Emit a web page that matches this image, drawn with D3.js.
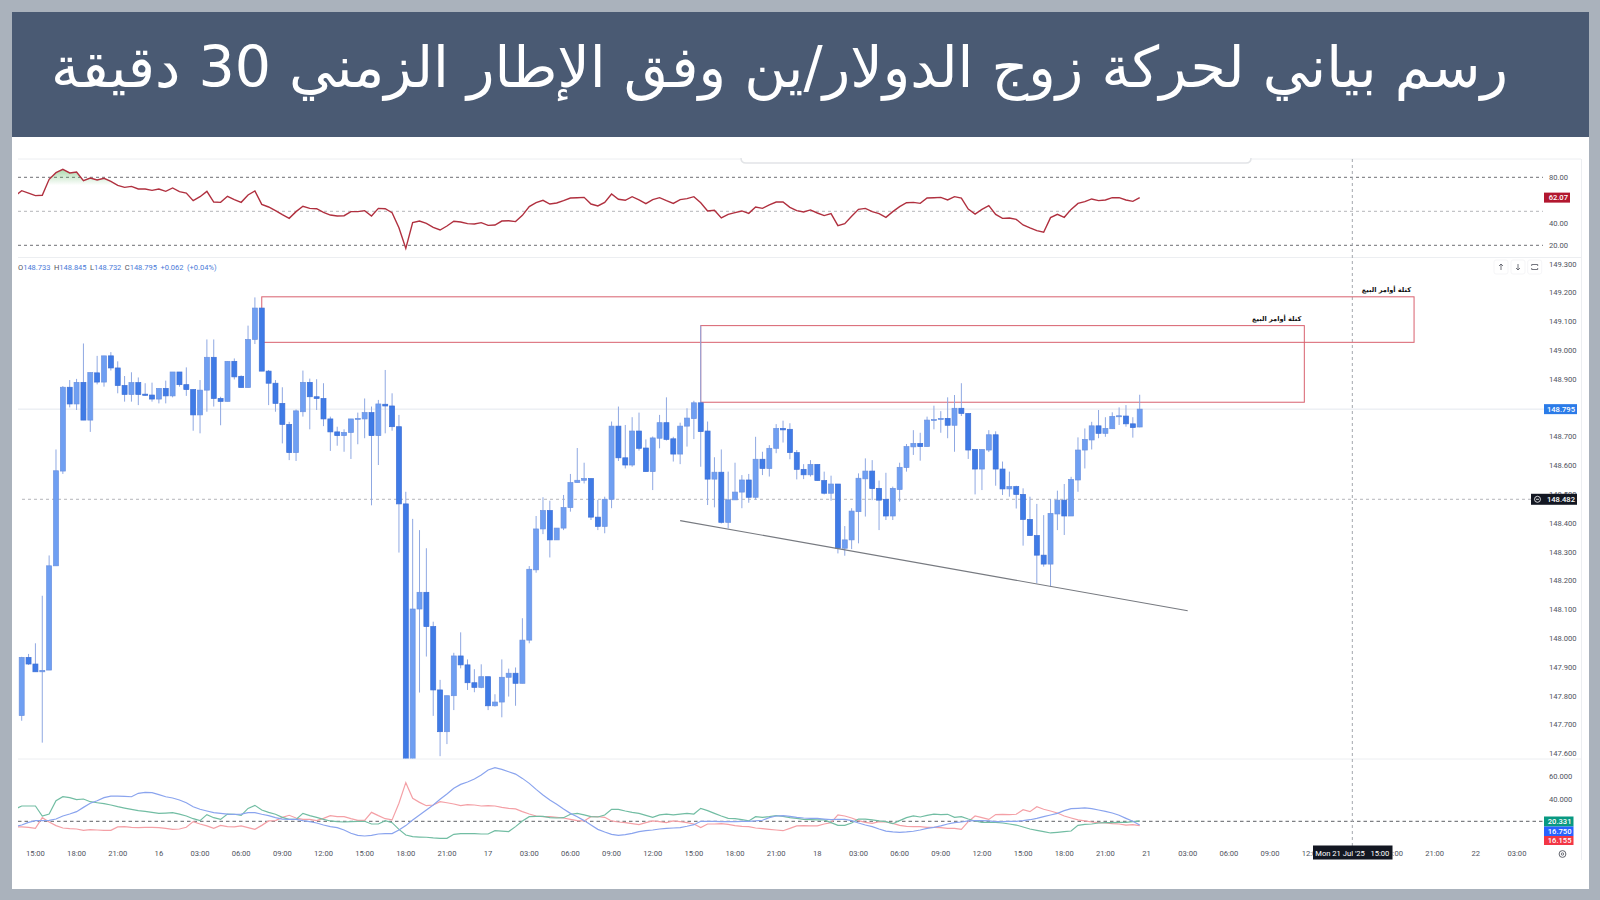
<!DOCTYPE html>
<html>
<head>
<meta charset="utf-8">
<script src="https://cdn.jsdelivr.net/npm/d3@7"></script>
<style>
    html, body { margin: 0; padding: 0; background: #aab2bc; }
    svg { display: block; }
    text { font-family: Roboto, "DejaVu Sans", sans-serif; }
    .tick text { fill: #50535e; font-size: 7.6px; }
    .domain { display: none; }
</style>
</head>
<body>
<svg id="chart" width="1600" height="900"></svg>
<script>
const titleText = 'رسم بياني لحركة زوج الدولار/ين وفق الإطار الزمني 30 دقيقة'
const zoneText = 'كتلة أوامر البيع'
const crosshairText = "Mon 21 Jul '25   15:00"

const opens = [
    147.731,147.933,147.910,147.883,147.889,148.251,148.580,148.871,148.813,148.888,
    148.757,148.921,148.889,148.980,148.938,148.877,148.846,148.887,148.847,148.844,
    148.830,148.867,148.841,148.924,148.880,148.863,148.775,148.861,148.975,148.832,
    148.822,148.961,148.909,148.870,149.037,149.146,148.927,148.885,148.815,148.742,
    148.644,148.786,148.888,148.838,148.832,148.761,148.716,148.703,148.714,148.760,
    148.761,148.783,148.703,148.812,148.806,148.734,148.466,147.450,148.101,148.159,
    148.040,147.820,147.675,147.800,147.938,147.907,147.845,147.829,147.866,147.765,
    147.778,147.864,147.878,147.843,147.993,148.237,148.379,148.443,148.341,148.382,
    148.453,148.540,148.548,148.554,148.420,148.388,148.482,148.736,148.626,148.601,
    148.719,148.660,148.578,148.694,148.748,148.692,148.639,148.736,148.762,148.817,
    148.719,148.552,148.576,148.402,148.480,148.507,148.549,148.489,148.621,148.589,
    148.659,148.728,148.725,148.644,148.586,148.567,148.603,148.547,148.503,148.535,
    148.312,148.341,148.439,148.553,148.580,148.520,148.482,148.424,148.516,148.592,
    148.664,148.676,148.665,148.757,148.759,148.763,148.739,148.798,148.780,148.655,
    148.587,148.653,148.706,148.587,148.518,148.526,148.499,148.412,148.356,148.288,
    148.257,148.431,148.479,148.424,148.549,148.653,148.688,148.737,148.711,148.727,
    148.769,148.771,148.744,148.733
]
const closes = [
    147.933,147.910,147.883,147.888,148.251,148.581,148.871,148.813,148.888,148.757,
    148.922,148.889,148.980,148.938,148.877,148.846,148.887,148.846,148.843,148.830,
    148.867,148.841,148.924,148.880,148.863,148.775,148.861,148.975,148.832,148.822,
    148.961,148.907,148.870,149.037,149.146,148.927,148.885,148.815,148.742,148.644,
    148.789,148.888,148.838,148.832,148.761,148.716,148.703,148.714,148.761,148.763,
    148.783,148.703,148.813,148.806,148.734,148.466,147.450,148.101,148.159,148.040,
    147.820,147.675,147.800,147.938,147.907,147.845,147.829,147.866,147.765,147.778,
    147.864,147.878,147.843,147.993,148.239,148.379,148.443,148.341,148.382,148.453,
    148.540,148.548,148.554,148.420,148.388,148.482,148.736,148.626,148.601,148.719,
    148.659,148.578,148.695,148.748,148.690,148.639,148.736,148.764,148.817,148.717,
    148.552,148.576,148.402,148.480,148.507,148.549,148.489,148.621,148.589,148.659,
    148.728,148.723,148.644,148.586,148.567,148.603,148.547,148.503,148.535,148.312,
    148.341,148.441,148.555,148.580,148.519,148.479,148.424,148.520,148.593,148.665,
    148.676,148.665,148.757,148.759,148.763,148.739,148.798,148.780,148.653,148.587,
    148.655,148.706,148.587,148.518,148.526,148.499,148.412,148.356,148.288,148.257,
    148.433,148.479,148.424,148.551,148.653,148.690,148.737,148.711,148.728,148.770,
    148.772,148.744,148.731,148.795
]
const highs = [
    147.935,147.945,147.982,148.147,148.287,148.655,148.875,148.896,148.900,149.023,
    148.922,148.980,148.980,148.993,148.961,148.910,148.923,148.905,148.885,148.887,
    148.867,148.894,148.924,148.924,148.940,148.864,148.896,149.037,149.037,148.838,
    148.961,148.971,148.912,149.085,149.183,149.146,148.931,148.896,148.871,148.751,
    148.794,148.929,148.901,148.899,148.885,148.769,148.734,148.725,148.761,148.783,
    148.832,148.804,148.827,148.931,148.850,148.775,148.508,148.414,148.375,148.312,
    148.057,147.855,147.800,147.949,148.020,147.926,147.892,147.909,147.866,147.805,
    147.926,147.894,147.898,148.069,148.250,148.424,148.489,148.477,148.382,148.497,
    148.570,148.660,148.609,148.554,148.480,148.491,148.752,148.804,148.740,148.767,
    148.783,148.690,148.700,148.775,148.836,148.699,148.748,148.798,148.824,149.085,
    148.752,148.628,148.655,148.578,148.609,148.566,148.570,148.699,148.647,148.670,
    148.743,148.755,148.746,148.653,148.604,148.618,148.603,148.578,148.564,148.535,
    148.389,148.451,148.572,148.624,148.618,148.547,148.574,148.526,148.609,148.674,
    148.722,148.713,148.769,148.807,148.788,148.836,148.844,148.885,148.780,148.655,
    148.655,148.722,148.718,148.613,148.578,148.529,148.520,148.491,148.466,148.427,
    148.483,148.512,148.535,148.560,148.697,148.728,148.751,148.792,148.767,148.784,
    148.801,148.809,148.767,148.845
]
const lows = [
    147.713,147.907,147.883,147.637,147.889,148.251,148.570,148.801,148.792,148.757,
    148.716,148.881,148.873,148.929,148.850,148.821,148.821,148.809,148.841,148.821,
    148.815,148.815,148.836,148.873,148.841,148.720,148.711,148.786,148.804,148.739,
    148.822,148.898,148.870,148.870,149.021,148.927,148.809,148.786,148.676,148.618,
    148.615,148.769,148.725,148.792,148.736,148.650,148.668,148.647,148.622,148.673,
    148.694,148.461,148.601,148.711,148.720,148.297,147.400,147.400,147.811,147.936,
    147.730,147.590,147.632,147.750,147.895,147.820,147.812,147.826,147.750,147.762,
    147.725,147.797,147.765,147.843,147.982,148.227,148.361,148.280,148.341,148.375,
    148.439,148.540,148.537,148.410,148.375,148.364,148.451,148.615,148.589,148.595,
    148.651,148.578,148.514,148.659,148.686,148.613,148.604,148.665,148.691,148.595,
    148.462,148.454,148.398,148.381,148.480,148.451,148.470,148.480,148.566,148.561,
    148.642,148.679,148.621,148.551,148.552,148.561,148.547,148.499,148.477,148.294,
    148.286,148.309,148.329,148.422,148.479,148.375,148.410,148.410,148.474,148.578,
    148.636,148.616,148.665,148.725,148.713,148.694,148.647,148.771,148.622,148.499,
    148.514,148.646,148.529,148.497,148.491,148.450,148.321,148.356,148.190,148.248,
    148.179,148.375,148.358,148.424,148.508,148.589,148.655,148.694,148.699,148.727,
    148.740,148.734,148.696,148.732
]

// indicator series start one bar before the first candle
const rsiValues = [
    63.5,68.2,66.1,63.8,64.1,78.2,84.1,87.0,83.8,84.7,77.0,
    79.4,77.6,79.1,76.4,72.9,71.1,72.0,69.7,69.7,68.5,
    69.7,67.6,70.6,67.3,66.1,59.4,62.9,67.6,58.2,57.9,
    63.2,60.3,57.9,64.4,67.9,56.1,53.8,50.6,47.0,43.8,
    49.7,54.4,52.6,52.3,49.1,46.7,45.8,46.1,49.7,49.7,
    50.6,45.8,52.6,52.3,48.8,35.5,17.3,40.0,41.4,39.4,
    35.9,33.5,37.0,41.2,40.6,39.1,38.8,40.0,37.6,37.9,
    41.4,41.7,40.9,46.4,54.1,57.6,59.7,56.4,57.3,59.4,
    61.7,62.0,62.3,56.4,54.7,57.9,65.3,60.6,59.7,62.9,
    60.0,56.7,60.3,62.0,59.4,57.0,60.3,61.2,62.9,57.6,
    50.3,50.9,44.1,47.3,48.8,50.3,48.2,53.8,52.6,55.6,
    58.2,58.2,53.5,50.6,49.4,51.2,48.5,46.2,47.9,37.3,
    39.1,45.6,51.7,52.6,49.7,47.9,44.7,49.7,54.1,57.6,
    57.9,57.0,61.7,62.0,62.3,60.0,62.9,61.7,52.0,47.6,
    51.7,55.0,47.3,43.8,44.1,42.9,37.9,35.3,32.9,31.5,
    44.4,47.3,44.7,51.7,57.0,58.5,60.9,59.4,60.0,62.0,
    62.0,60.0,58.8,62.07
]
const plusValues = [
    15.3,15.0,14.7,13.8,23.2,19.4,16.2,14.1,13.5,13.2,12.0,
    12.6,12.3,12.0,12.0,15.0,15.3,14.7,14.4,14.7,14.7,
    14.4,13.8,12.9,13.2,14.7,19.7,17.6,15.9,13.8,16.4,
    15.3,15.0,15.9,14.4,12.9,16.4,20.3,20.6,23.5,25.3,
    22.9,21.7,21.7,20.6,22.6,25.0,24.1,24.1,22.3,20.9,
    20.9,27.9,25.0,22.3,21.2,35.9,54.1,40.3,36.7,33.8,
    34.4,37.3,36.4,35.3,33.8,34.7,34.4,33.5,33.8,33.5,
    32.3,31.4,30.9,28.5,26.4,24.7,24.1,24.1,23.5,22.9,
    21.7,20.6,20.3,24.1,24.1,
    23.5,20.3,19.4,18.8,17.9,17.0,18.8,20.3,19.7,18.8,
    20.3,19.7,18.8,17.6,14.4,17.6,17.6,17.9,17.3,16.2,
    15.6,15.3,14.1,13.5,12.9,12.3,11.7,13.8,15.9,16.2,
    15.9,15.9,17.6,18.8,25.6,24.7,22.9,20.6,19.1,18.2,
    19.7,19.4,18.2,16.4,15.6,15.3,15.3,14.7,14.7,14.4,
    13.8,13.8,12.9,19.7,24.7,23.2,21.7,25.9,26.2,25.9,
    26.2,30.3,28.5,32.9,30.6,29.1,27.3,24.7,22.9,21.2,
    20.3,19.4,18.8,18.5,17.9,17.6,16.7,17.0,16.155
]
const minusValues = [
    30.6,33.5,33.5,33.5,24.7,26.4,38.2,41.7,40.9,39.1,39.7,
    37.3,36.4,35.6,34.4,32.9,31.7,30.6,29.4,28.8,27.9,
    27.0,27.3,27.6,26.4,24.7,22.3,20.6,25.9,23.2,21.7,
    26.4,26.2,25.3,31.4,34.1,30.0,27.9,26.2,23.5,21.7,
    21.7,27.0,25.0,23.5,21.7,20.3,19.7,19.4,19.7,20.0,
    20.0,17.6,17.6,20.6,18.8,12.9,7.9,6.4,6.1,5.9,
    5.3,5.0,5.0,8.5,9.1,9.1,9.1,8.8,8.8,11.7,
    11.4,10.9,15.3,20.3,24.1,24.4,24.4,23.2,22.9,23.2,
    26.2,27.0,25.6,24.1,23.8,
    25.6,30.6,30.6,29.1,27.9,27.0,25.3,23.5,25.6,26.4,
    25.6,26.4,27.0,26.4,31.4,29.4,27.0,24.7,22.6,22.3,
    21.4,20.3,24.1,23.5,24.1,25.0,24.4,23.2,22.6,21.7,
    21.4,21.2,21.2,18.8,16.4,16.4,18.5,22.0,22.0,21.2,
    20.3,19.7,17.9,20.6,23.2,24.7,23.8,25.3,26.4,25.9,
    26.2,23.5,24.1,22.0,20.3,19.1,19.1,19.1,18.5,17.6,
    16.7,15.0,13.2,12.0,10.9,9.7,10.3,10.9,11.4,16.4,
    17.3,17.6,18.5,18.8,18.8,19.1,19.1,19.7,20.331
]
const adxValues = [
    15.3,16.7,19.1,20.6,20.6,20.9,22.0,24.7,26.4,28.5,32.3,
    35.9,38.2,40.9,42.3,42.3,42.0,41.7,44.7,45.6,45.3,
    43.5,41.7,40.6,38.8,36.4,32.9,30.6,29.1,27.6,27.0,
    26.4,26.2,26.4,27.6,27.6,26.2,25.0,23.2,22.0,21.7,
    21.7,20.6,19.7,18.5,16.7,15.3,14.4,12.3,9.4,7.6,
    7.0,7.6,8.8,9.1,9.1,12.3,16.2,21.2,25.6,30.0,
    34.4,39.4,44.1,49.1,52.6,54.7,57.3,60.9,65.3,67.3,
    65.9,63.8,61.7,57.9,53.5,48.2,43.2,38.8,35.0,30.9,
    27.0,24.1,20.6,16.7,12.9,
    10.6,8.5,7.6,8.2,9.4,10.9,11.7,12.3,13.2,13.8,
    14.1,14.4,15.6,17.0,20.0,20.0,20.0,19.7,19.7,19.7,
    20.0,20.0,20.3,20.9,23.2,24.7,25.0,24.4,23.5,22.9,
    22.6,22.6,22.0,21.4,21.7,21.7,20.6,18.5,16.7,15.3,
    13.2,11.4,10.6,10.3,10.6,11.2,12.3,13.8,14.7,15.9,
    17.6,18.8,19.4,20.3,20.6,20.6,20.3,19.7,19.7,20.0,
    20.0,20.6,21.4,22.6,24.1,25.6,27.0,29.4,31.2,31.5,
    31.8,31.2,30.0,28.8,27.3,25.3,22.6,20.0,16.75
]

const priceTicks = [147.6,147.7,147.8,147.9,148.0,148.1,148.2,148.3,148.4,148.5,148.6,148.7,148.8,148.9,149.0,149.1,149.2,149.3]
const rsiTicks = [20,40,80]
const rsiLevels = [20,50,80]
const dmiTicks = [40,60]
// the 15:00 of the 21st sits fully under the crosshair tag, so it has no text
const timeTicks = [
    '15:00','18:00','21:00','16','03:00','06:00','09:00','12:00','15:00','18:00','21:00',
    '17','03:00','06:00','09:00','12:00','15:00','18:00','21:00',
    '18','03:00','06:00','09:00','12:00','15:00','18:00','21:00',
    '21','03:00','06:00','09:00','12:00','','18:00','21:00','22','03:00'
]

const lastPrice = 148.795
const crosshairPrice = 148.482
const crosshairBar = 194
// supply zones as [start bar, end bar, top price, bottom price]
const zoneStarts = [35, 99]
const zoneEnds = [203, 187]
const zoneTops = [149.185, 149.085]
const zoneBottoms = [149.027, 148.819]
const trendBars = [96, 170]
const trendPrices = [148.408, 148.095]

const green = '#089981', blue = '#2962ff', red = '#f23645'

const svg = d3.select('#chart')
const defs = svg.append('defs')

const x = d3.scaleLinear().domain([0, 163]).range([21.7, 1139.7])
const yPrice = d3.scaleLinear().domain([147.6, 149.3]).range([753.3, 263.7])
const yRsi = d3.scaleLinear().domain([20, 80]).range([245.3, 177.3])
const yDmi = d3.scaleLinear().domain([20, 60]).range([821.3, 776])

function addClip(id, left, top, right, bottom) {
    defs.append('clipPath').attr('id', id).append('rect')
        .attr('x', left).attr('y', top)
        .attr('width', right - left).attr('height', bottom - top)
}
addClip('mainClip', 18, 258, 1544, 758.5)
addClip('indClip', 18, 160, 1544, 846)

function renderFrame() {
    svg.append('rect').attr('width', 1600).attr('height', 900).attr('fill', '#aab2bc')
    svg.append('rect').attr('x', 12).attr('y', 137).attr('width', 1577).attr('height', 752).attr('fill', '#fff')
    svg.append('rect').attr('x', 12).attr('y', 12).attr('width', 1577).attr('height', 125).attr('fill', '#4a5a73')
    svg.append('text')
        .attr('x', 1508).attr('y', 87)
        .attr('direction', 'rtl')
        .attr('fill', '#fff')
        .style('font-family', '"DejaVu Sans", sans-serif')
        .style('font-size', '57px')
        .text(titleText)

    // pane separators and the edges of the chart
    const rules = svg.append('g').attr('stroke', '#eceef1').attr('stroke-width', 1)
    rules.append('line').attr('x1', 18).attr('x2', 1581).attr('y1', 159).attr('y2', 159)
    rules.append('line').attr('x1', 18).attr('x2', 1581).attr('y1', 257.5).attr('y2', 257.5)
    rules.append('line').attr('x1', 18).attr('x2', 1581).attr('y1', 759).attr('y2', 759)
    rules.append('line').attr('x1', 1581.5).attr('x2', 1581.5).attr('y1', 159).attr('y2', 860)

    // the dropped tab at the top of the chart
    svg.append('path')
        .attr('d', 'M741,158 Q741,163 746,163 L1246,163 Q1251,163 1251,158')
        .attr('fill', '#fff').attr('stroke', '#e2e4e7').attr('stroke-width', 1.5)
}

function renderLevels() {
    const levels = svg.append('g').attr('fill', 'none')
    levels.selectAll('line.rsi')
        .data(rsiLevels)
        .enter().append('line')
        .attr('class', 'rsi')
        .attr('x1', 18).attr('x2', 1543)
        .attr('y1', d => yRsi(d)).attr('y2', d => yRsi(d))
        .attr('stroke', d => d === 50 ? '#b4b6ba' : '#6e7075')
        .attr('stroke-dasharray', '3 3')
    levels.append('line')
        .attr('x1', 18).attr('x2', 1543)
        .attr('y1', yDmi(20)).attr('y2', yDmi(20))
        .attr('stroke', '#5d5f64').attr('stroke-dasharray', '3.5 3')
    levels.append('line')
        .attr('x1', 18).attr('x2', 1544)
        .attr('y1', yPrice(lastPrice)).attr('y2', yPrice(lastPrice))
        .attr('stroke', '#e3e7ee')
    levels.append('line')
        .attr('x1', 22).attr('x2', 1531)
        .attr('y1', yPrice(crosshairPrice)).attr('y2', yPrice(crosshairPrice))
        .attr('stroke', '#b4b6ba').attr('stroke-dasharray', '3 3')
    levels.append('line')
        .attr('x1', x(crosshairBar)).attr('x2', x(crosshairBar))
        .attr('y1', 159).attr('y2', 846)
        .attr('stroke', '#a4a7ad').attr('stroke-dasharray', '3 3')
}

function renderZones() {
    const zones = svg.append('g').attr('fill', 'none').attr('stroke', '#d8606e').attr('stroke-width', 1)
    zoneStarts.forEach((start, i) => {
        zones.append('rect')
            .attr('x', x(start))
            .attr('y', yPrice(zoneTops[i]))
            .attr('width', x(zoneEnds[i]) - x(start))
            .attr('height', yPrice(zoneBottoms[i]) - yPrice(zoneTops[i]))
        svg.append('text')
            .attr('x', x(zoneEnds[i]) - 3)
            .attr('y', yPrice(zoneTops[i]) - 5)
            .attr('direction', 'rtl')
            .attr('fill', '#111')
            .style('font-family', '"DejaVu Sans", sans-serif')
            .style('font-size', '6.6px')
            .style('font-weight', 'bold')
            .text(zoneText)
    })
}

function renderCandles() {
    const bars = d3.range(opens.length)
    const g = svg.append('g').attr('clip-path', 'url(#mainClip)')
    const isUp = i => closes[i] >= opens[i]

    g.selectAll('line.wick')
        .data(bars)
        .enter().append('line')
        .attr('class', 'wick')
        .attr('x1', i => x(i)).attr('x2', i => x(i))
        .attr('y1', i => yPrice(highs[i])).attr('y2', i => yPrice(lows[i]))
        .attr('stroke', '#8fa8e2').attr('stroke-width', 1)

    g.selectAll('rect.body')
        .data(bars)
        .enter().append('rect')
        .attr('class', 'body')
        .attr('x', i => x(i) - 2.5)
        .attr('width', 5)
        .attr('y', i => yPrice(Math.max(opens[i], closes[i])))
        .attr('height', i => Math.max(1, Math.abs(yPrice(opens[i]) - yPrice(closes[i]))))
        .attr('fill', i => isUp(i) ? '#6f9ff2' : '#3f7be6')
        .attr('stroke', i => isUp(i) ? '#6c92e0' : '#3d6fd6')
        .attr('stroke-width', 0.7)
}

function renderTrend() {
    svg.append('line')
        .attr('x1', x(trendBars[0])).attr('y1', yPrice(trendPrices[0]))
        .attr('x2', x(trendBars[1])).attr('y2', yPrice(trendPrices[1]))
        .attr('stroke', '#777a80').attr('stroke-width', 1.2)
}

function indicatorLine(yScale) {
    return d3.line().x((d, i) => x(i - 1)).y(d => yScale(d))
}

function renderIndicators() {
    const g = svg.append('g').attr('clip-path', 'url(#indClip)').attr('fill', 'none')

    // overbought shading
    const gradient = defs.append('linearGradient').attr('id', 'overbought')
        .attr('gradientUnits', 'userSpaceOnUse')
        .attr('x1', 0).attr('x2', 0).attr('y1', yRsi(88)).attr('y2', yRsi(73))
    gradient.append('stop').attr('offset', 0).attr('stop-color', '#4caf50').attr('stop-opacity', 0.5)
    gradient.append('stop').attr('offset', 1).attr('stop-color', '#4caf50').attr('stop-opacity', 0)
    const area = d3.area()
        .defined((d, i) => i >= 5 && i <= 15)
        .x((d, i) => x(i - 1))
        .y0(yRsi(73))
        .y1(d => yRsi(d))
    g.append('path').attr('d', area(rsiValues)).attr('fill', 'url(#overbought)')

    g.append('path').attr('d', indicatorLine(yRsi)(rsiValues))
        .attr('stroke', '#b0303f').attr('stroke-width', 1.4)

    const dmi = [[plusValues, '#f4a0a6'], [minusValues, '#72bda3'], [adxValues, '#8aa4ee']]
    dmi.forEach(([values, color]) => {
        g.append('path').attr('d', indicatorLine(yDmi)(values))
            .attr('stroke', color).attr('stroke-width', 1.2)
    })
}

function renderAxes() {
    svg.append('g').attr('transform', 'translate(1549,0)')
        .call(d3.axisRight(yPrice).tickValues(priceTicks).tickSize(0).tickPadding(0).tickFormat(d3.format('.3f')))
    svg.append('g').attr('transform', 'translate(1549,0)')
        .call(d3.axisRight(yRsi).tickValues(rsiTicks).tickSize(0).tickPadding(0).tickFormat(d3.format('.2f')))
    svg.append('g').attr('transform', 'translate(1549,0)')
        .call(d3.axisRight(yDmi).tickValues(dmiTicks).tickSize(0).tickPadding(0).tickFormat(d3.format('.3f')))

    const timeBars = timeTicks.map((d, i) => 2 + i * 6)
    const timeAxis = d3.axisBottom(x)
        .tickValues(timeBars)
        .tickSize(0).tickPadding(0)
        .tickFormat((d, i) => timeTicks[i])
    const axis = svg.append('g').attr('transform', 'translate(-0.5,847)').call(timeAxis)
    axis.selectAll('text').attr('dy', 0).attr('y', 8.5)
}

function valueTag(left, top, width, height, fill, label) {
    svg.append('rect').attr('x', left).attr('y', top)
        .attr('width', width).attr('height', height).attr('fill', fill)
    svg.append('text')
        .attr('x', left + width - 2).attr('y', top + height / 2 + 2.7)
        .attr('text-anchor', 'end')
        .attr('fill', '#fff')
        .style('font-size', '7.6px').style('font-weight', 500)
        .text(label)
}

function renderTags() {
    valueTag(1544, yRsi(62.07) - 5, 26, 10, '#b2172f', '62.07')
    valueTag(1544, yPrice(lastPrice) - 5, 33, 10, '#2b7be8', '148.795')
    valueTag(1531, yPrice(crosshairPrice) - 5.5, 46, 11, '#131722', '148.482')
    svg.append('circle')
        .attr('cx', 1537.5).attr('cy', yPrice(crosshairPrice)).attr('r', 3)
        .attr('fill', 'none').attr('stroke', '#fff').attr('stroke-width', 0.8)
    svg.append('path')
        .attr('d', d3.line()([[1536, yPrice(crosshairPrice)], [1539, yPrice(crosshairPrice)]]))
        .attr('stroke', '#fff').attr('stroke-width', 0.8)

    valueTag(1544, 816.5, 29.5, 10, green, '20.331')
    valueTag(1544, 826.5, 29.5, 9.5, blue, '16.750')
    valueTag(1544, 836, 29.5, 9, red, '16.155')

    svg.append('rect').attr('x', 1313).attr('y', 845.5)
        .attr('width', 79.5).attr('height', 14).attr('fill', '#131722')
    svg.append('text')
        .attr('x', x(crosshairBar)).attr('y', 855.5)
        .attr('text-anchor', 'middle')
        .attr('fill', '#fff')
        .attr('xml:space', 'preserve')
        .style('white-space', 'pre')
        .style('font-size', '7.6px')
        .text(crosshairText)

    // settings gear
    svg.append('circle').attr('cx', 1562.5).attr('cy', 854).attr('r', 3.4)
        .attr('fill', 'none').attr('stroke', '#50535e').attr('stroke-width', 0.9)
    svg.append('circle').attr('cx', 1562.5).attr('cy', 854).attr('r', 1.2)
        .attr('fill', 'none').attr('stroke', '#50535e').attr('stroke-width', 0.8)
}

function renderLegend() {
    const items = [['O', '148.733'], ['H', '148.845'], ['L', '148.732'], ['C', '148.795']]
    const legend = svg.append('text').attr('x', 18).attr('y', 269.5)
        .style('font-size', '7.5px').style('word-spacing', '1.6px')
    items.forEach(([key, value]) => {
        legend.append('tspan').attr('fill', '#50535e').text(key)
        legend.append('tspan').attr('fill', '#4a7ad8').text(value + ' ')
    })
    legend.append('tspan').attr('fill', '#4a7ad8').text('+0.062 (+0.04%)')

    // the little pane buttons
    const buttons = svg.append('g').attr('fill', 'none').attr('stroke', '#50535e').attr('stroke-width', 0.8)
    const arrows = [
        [1501, 'M0,3 V-3 M-2,-1 L0,-3 L2,-1'],
        [1518, 'M0,-3 V3 M-2,1 L0,3 L2,1'],
        [1534.7, 'M-3,-1 V-2.5 H3 V-1 M-3,1 V2.5 H3 V1']
    ]
    arrows.forEach(([cx, d]) => {
        buttons.append('rect')
            .attr('x', cx - 7).attr('y', 260).attr('width', 14).attr('height', 14).attr('rx', 2)
            .attr('stroke', '#f2f3f5')
        buttons.append('path').attr('d', d).attr('transform', `translate(${cx},267)`)
    })
}

function render() {
    renderFrame()
    renderLevels()
    renderZones()
    renderCandles()
    renderTrend()
    renderIndicators()
    renderAxes()
    renderTags()
    renderLegend()
}

render()
</script>
</body>
</html>
